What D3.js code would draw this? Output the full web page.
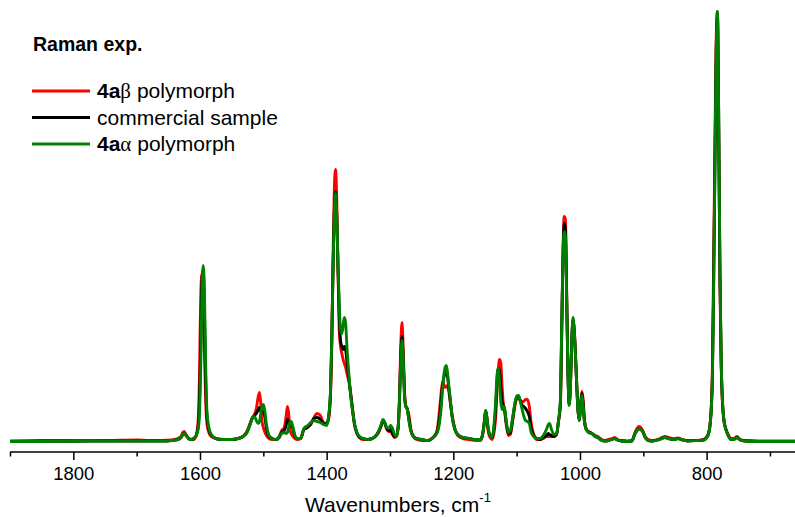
<!DOCTYPE html>
<html>
<head>
<meta charset="utf-8">
<script src="https://cdn.jsdelivr.net/npm/d3@7"></script>
<style>
  html, body { margin: 0; padding: 0; background: #fff; }
  svg { display: block; }
  text { font-family: "Liberation Sans", Arial, sans-serif; fill: #000; }
</style>
</head>
<body>
<svg id="chart" width="795" height="517"></svg>
<script>
// Wavenumber grid (cm-1)
const wavenumbers = [
  1900,1850,1800,1750,1700,1680,1660,1645,1635,1630,1627,1625,1622,1618,1614,1610,
  1606,1603,1601,1599,1597,1595,1593,1591,1589,1586,1582,1575,1565,1550,
  1540,1532,1526,1521,1517,1514,1511,1508,1506,1504,1502,1500,1498,1495,1491,1486,
  1480,1475,1471,1467,1464,1462,1460,1458,1456,1453,1450,1446,1441,
  1436,1430,1425,1420,1415,1410,1405,1400,
  1397,1394,1392,1390,1388,1386,1384,1382,1380,1378,1376,1374,1372,1370,1368,1365,1362,1359,1356,1352,1348,1343,
  1335,1325,1318,1314,1311,1308,1305,1302,1299,1296,1293,1290,
  1287,1285,1283,1281,1279,1277,1275,1273,1270,1267,1263,1258,1250,
  1240,1232,1226,1222,1219,1217,1215,1213,1211,1209,1207,1205,1202,1198,1193,1185,1175,1165,
  1157,1153,1151,1149,1147,1145,1142,1139,
  1136,1133,1131,1129,1127,1125,1123,1121,1119,1116,1113,1110,
  1106,1102,1099,1097,1095,1092,1089,1086,1083,1080,1077,1073,1068,
  1063,1058,1053,1050,1048,1045,1041,1037,1034,
  1031,1029,1027,1025,1023,1021,1019,1017,1015,1013,1011,1009,1007,1005,1003,1001,999,997,995,993,990,986,981,976,972,968,962,955,949,945,941,935,925,918,
  913,910,907,904,901,897,892,885,
  875,866,860,855,850,845,840,830,815,805,
  798,794,791,789,787,785,783,781,779,777,775,773,770,766,762,757,752,747,740,720,700,680,660
];

// 4aβ polymorph (red), arbitrary intensity units
const betaPolymorph = [
  0.5,1,1,1,1.5,1,1,1.5,3,5,9,10,7,3,2,2,
  6,20,60,140,168,150,90,40,18,9,5,3,2,2,
  3,5,10,18,24,27,33,45,49,38,20,14,10,6,3,2,
  2,5,11,14,25,35,28,12,8,5,3,2,3,
  12,15,17,24,28,26,19,18,
  22,45,95,180,250,272,240,170,110,95,88,82,78,74,68,60,48,32,17,8,4,2,
  2,4,9,15,20,18,12,10,10,7,4,5,
  15,45,95,119,90,50,36,33,26,12,5,2,1,
  1,4,10,30,50,59,57,54,55,56,50,40,27,14,6,3,2,1,
  1,9,19,30,23,11,4,2,
  8,25,52,72,82,78,55,38,30,15,6,7,
  22,38,44,44,42,40,40,42,42,35,18,7,2,
  2,3,5,5,5,5,5,7,20,
  35,100,180,225,222,150,70,38,60,100,120,112,85,55,30,22,38,50,42,22,12,10,8,6,5,3,1,2,3,4,2,1,0.5,1,
  9,13,15,14,11,5,2,1,
  2.5,5,4,3,3,3.5,2,1,1,2,
  7,22,70,180,290,400,425,310,160,75,38,22,13,7,3,3,5,2,1,0.5,0.5,0.5,0.5
];

// commercial sample (black)
const commercialSample = [
  0,0.3,0.3,0.5,0.5,0.5,0.5,1,2,4,7,8,6,3,2,3,
  6,14,35,90,160,172,130,60,25,12,6,3,2,2,
  3,5,9,17,24,26,28,32,34,30,30,30,26,13,5,3,
  2,4,9,11,16,22,20,18,17,12,5,3,3,
  12,14,18,23,24,22,18,17,
  24,48,98,170,228,250,225,170,125,100,95,92,95,92,80,64,47,31,17,8,4,3,
  2,4,10,16,21,18,13,11,12,8,5,5,
  15,42,85,105,82,46,35,33,22,11,5,3,2,
  1,4,9,22,42,56,64,68,69,64,53,42,26,13,7,4,3,2,
  2,10,20,31,24,13,6,4,
  12,35,60,73,70,55,40,36,32,17,8,9,
  24,40,45,45,42,37,35,33,30,25,13,6,3,
  2,4,6,8,7,6,5,7,20,
  38,105,180,218,212,145,70,37,57,100,122,111,85,55,30,21,36,48,38,21,12,9,8,5,4,2,0.5,1,2,3,1.5,0.5,0,0.5,
  8,11,13,12,10,4,1,0.5,
  2,4,3,2,2,3,2,0.5,1,1.5,
  6,20,62,155,272,385,430,328,168,80,40,23,13,6,2,2,4,1.5,0.5,0,0,0,0
];

// 4aα polymorph (green)
const alphaPolymorph = [
  0,0,0.3,0.5,0.5,0.5,0.5,1,2,4,7,8,6,3,2,3,
  6,12,25,70,145,176,150,75,30,14,7,3,2,2,
  3,5,9,17,24,25,21,18,20,28,35,37,32,17,6,3,
  2,4,8,9,8,9,14,19,20,14,6,3,3,
  13,16,19,21,20,19,17,16,
  25,50,100,170,225,248,225,175,135,112,108,116,124,118,95,68,45,30,18,9,5,3,
  2,4,10,17,22,19,14,13,16,13,7,5,
  15,40,80,101,80,45,35,33,20,10,5,3,2,
  1,4,8,18,35,52,66,74,76,68,55,44,25,13,7,4,3,2,
  2,10,20,31,24,13,6,4,
  15,42,66,73,60,40,32,35,33,18,9,11,
  25,41,46,46,42,34,26,21,20,18,9,5,3,
  3,6,12,17,18,12,7,8,20,
  41,110,180,210,205,140,70,36,55,100,124,110,85,55,30,21,35,46,35,20,12,9,8,5,4,2,0.5,1,2,3,1.5,0.5,0,0.5,
  8,11,13,12,10,4,1,0.5,
  2,4,3,2,2,3,2,0.5,1,1.5,
  6,20,60,150,270,380,430,330,170,80,40,23,13,6,2,2,4,1.5,0.5,0,0,0,0
];

const majorTicks = [1800, 1600, 1400, 1200, 1000, 800];
const minorTicks = [1900, 1700, 1500, 1300, 1100, 900, 700];
const seriesNames = ["4aβ polymorph", "commercial sample", "4aα polymorph"];
const seriesColors = ["#ff0000", "#000000", "#008000"];

if (betaPolymorph.length !== wavenumbers.length ||
    commercialSample.length !== wavenumbers.length ||
    alphaPolymorph.length !== wavenumbers.length) {
  console.error("length mismatch", wavenumbers.length, betaPolymorph.length, commercialSample.length, alphaPolymorph.length);
}

const svg = d3.select("#chart");
const x = d3.scaleLinear().domain([1900, 660]).range([10, 795.3]);
const y = d3.scaleLinear().domain([0, 430]).range([441.5, 11.5]);
const axisY = 452;

svg.append("defs").append("clipPath").attr("id", "plotclip")
  .append("rect").attr("x", 10).attr("y", 0).attr("width", 786).attr("height", axisY - 1);

const line = d3.line()
  .x(d => x(d[0]))
  .y(d => y(d[1]))
  .curve(d3.curveMonotoneX);

const seriesData = [betaPolymorph, commercialSample, alphaPolymorph];
const g = svg.append("g").attr("clip-path", "url(#plotclip)");
seriesData.forEach((vals, i) => {
  g.append("path")
    .datum(wavenumbers.map((w, j) => [w, vals[j]]))
    .attr("fill", "none")
    .attr("stroke", seriesColors[i])
    .attr("stroke-width", 2.9)
    .attr("stroke-linejoin", "round")
    .attr("d", line);
});

// Axes
const majorAxis = d3.axisBottom(x).tickValues(majorTicks).tickSize(8).tickSizeOuter(0).tickPadding(5)
  .tickFormat(d3.format("d"));
const minorAxis = d3.axisBottom(x).tickValues(minorTicks).tickSize(4.5).tickSizeOuter(0).tickFormat("");

const ga = svg.append("g").attr("transform", `translate(0,${axisY})`).call(majorAxis);
svg.append("g").attr("transform", `translate(0,${axisY})`).call(minorAxis)
  .select(".domain").remove();
ga.select(".domain").attr("stroke-width", 1.5).attr("d", `M${x(1900)},0H795`);
svg.selectAll(".tick line").attr("stroke-width", 1.5);
ga.selectAll(".tick text").attr("font-size", 18.5).attr("font-family", "'Liberation Sans', Arial, sans-serif")
  .attr("fill", "#000").attr("dy", "0.8em");

// Axis title
const xt = svg.append("text").attr("x", 398).attr("y", 512).attr("text-anchor", "middle").attr("font-size", 21);
xt.append("tspan").text("Wavenumbers, cm");
xt.append("tspan").attr("font-size", 13).attr("dy", -10).text("-1");

// Legend
svg.append("text").attr("x", 33).attr("y", 51).attr("font-size", 19.5).attr("font-weight", "bold").text("Raman exp.");
const legY = [91, 117.5, 144];
seriesNames.forEach((name, i) => {
  svg.append("line").attr("x1", 32).attr("x2", 90).attr("y1", legY[i]).attr("y2", legY[i])
    .attr("stroke", seriesColors[i]).attr("stroke-width", 2.8);
  const t = svg.append("text").attr("x", 97).attr("y", legY[i] + 7).attr("font-size", 21);
  if (i === 1) {
    t.text(name);
  } else {
    t.append("tspan").attr("font-weight", "bold").text("4a");
    t.append("tspan").attr("font-family", "'Liberation Serif', 'DejaVu Serif', serif").text(name.charAt(2));
    t.append("tspan").text(name.slice(3));
  }
});
</script>
</body>
</html>
